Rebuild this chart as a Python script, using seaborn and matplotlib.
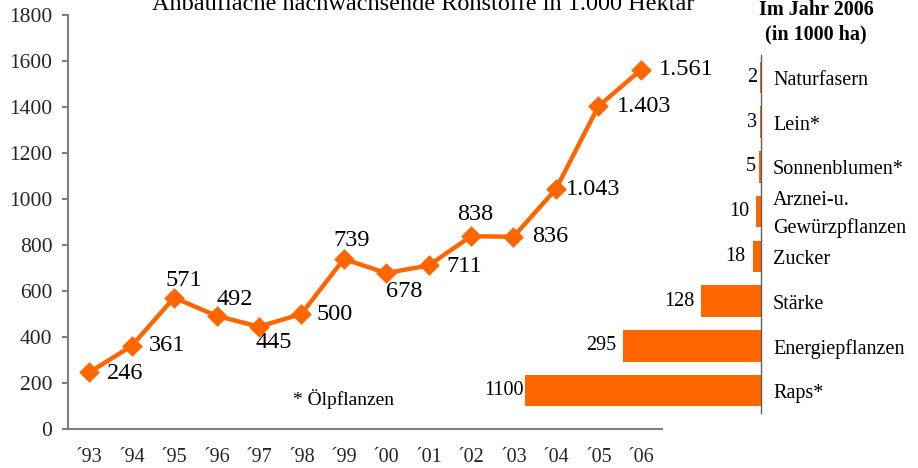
import matplotlib
matplotlib.use("Agg")
import matplotlib.pyplot as plt
import seaborn as sns
import pandas as pd

# Anbaufläche nachwachsende Rohstoffe (1.000 ha)
jahre = ["´93", "´94", "´95", "´96", "´97", "´98", "´99",
         "´00", "´01", "´02", "´03", "´04", "´05", "´06"]
flaeche = [246, 361, 571, 492, 445, 500, 739, 678, 711, 838, 836, 1043, 1403, 1561]

# Im Jahr 2006 (in 1000 ha)
kulturen = ["Naturfasern", "Lein*", "Sonnenblumen*", "Arznei-u.\nGewürzpflanzen",
            "Zucker", "Stärke", "Energiepflanzen", "Raps*"]
anbau_2006 = [2, 3, 5, 10, 18, 128, 295, 1100]

y_ticks = list(range(0, 1801, 200))

ORANGE = "#FF6600"
GRAU = "#808080"
W, H = 918, 468
PT = 0.72  # px -> pt bei 100 dpi

# Lage der Wertbeschriftungen relativ zum Marker (px, linker Rand / Mitte)
label_offsets = [(18, 1), (17, 0), (-9, -17), (0, -16), (-3, 16), (15, 0), (-10, -19),
                 (0, 18), (18, 1), (-14, -22), (19, 0), (10, 0), (19, 0), (18, 0)]

sns.set_theme(style="white")
plt.rcParams["font.family"] = ["Liberation Serif", "DejaVu Serif"]
plt.rcParams["text.color"] = "black"


def px_box(x0, y0, x1, y1):
    return [x0 / W, 1 - y1 / H, (x1 - x0) / W, (y1 - y0) / H]


fig = plt.figure(figsize=(W / 100, H / 100), dpi=100)

# --- Liniendiagramm ---
ax = fig.add_axes(px_box(68, 15, 662, 429))
df = pd.DataFrame({"Jahr": jahre, "Fläche": flaeche})
sns.pointplot(data=df, x="Jahr", y="Fläche", color=ORANGE, markers="D",
              markersize=8, linewidth=3.2, errorbar=None, ax=ax)
ax.set_xlim(-0.5, len(jahre) - 0.5)
ax.set_ylim(0, 1800)
ax.set_yticks(y_ticks)
ax.set_xlabel("")
ax.set_ylabel("")
sns.despine(ax=ax)
for s in ["left", "bottom"]:
    ax.spines[s].set_color(GRAU)
    ax.spines[s].set_linewidth(1.5)
ax.tick_params(axis="y", left=True, direction="out", length=4.3, width=1.5,
               color=GRAU, pad=7, labelsize=15.5)
ax.tick_params(axis="x", bottom=True, length=0, pad=14, labelsize=14.5)

for i, (v, (dx, dy)) in enumerate(zip(flaeche, label_offsets)):
    txt = f"{v:,}".replace(",", ".")
    ax.annotate(txt, xy=(i, v), xytext=(dx * PT, -dy * PT), textcoords="offset points",
                ha="left", va="center", fontsize=17.5, annotation_clip=False)

fig.text(293 / W, 1 - 399 / H, "* Ölpflanzen", ha="left", va="center", fontsize=14)

# --- Balkendiagramm 2006 ---
bx = fig.add_axes(px_box(525, 55, 761, 413))
bx.patch.set_alpha(0)
df2 = pd.DataFrame({"Kultur": kulturen, "ha": anbau_2006})
sns.barplot(data=df2, y="Kultur", x="ha", color=ORANGE, saturation=1, width=0.7,
            orient="h", linewidth=0, ax=bx)
x_max = 504
bx.set_xlim(x_max, 0)
bx.set_ylim(len(kulturen) - 0.5, -0.5)
bx.set_xlabel("")
bx.set_ylabel("")
bx.set_xticks([])
bx.set_yticks([])
for s in ["left", "top", "bottom"]:
    bx.spines[s].set_visible(False)
bx.spines["right"].set_color("#606060")
bx.spines["right"].set_linewidth(1)

for i, (kultur, v) in enumerate(zip(kulturen, anbau_2006)):
    # Kategoriename rechts der Nulllinie
    bx.annotate(kultur, xy=(0, i), xytext=(12 * PT, -3 * PT), textcoords="offset points",
                ha="left", va="center", fontsize=14.5, linespacing=1.5,
                annotation_clip=False)
    # Wert links vom Balken
    if v > x_max:
        off = -1
    elif v < 10:
        off = -2
    else:
        off = -5
    bx.annotate(str(v), xy=(min(v, x_max), i), xytext=(off, 0), textcoords="offset points",
                ha="right", va="center", fontsize=14.5, annotation_clip=False)

# --- Überschriften ---
fig.text(423 / W, 1 - 10 / H, "Anbaufläche nachwachsende Rohstoffe in 1.000 Hektar",
         ha="center", va="baseline", fontsize=17.5)
fig.text(816 / W, 1 - 10 / H, "Im Jahr 2006", ha="center", va="center",
         fontsize=14.5, weight="bold")
fig.text(816 / W, 1 - 34 / H, "(in 1000 ha)", ha="center", va="center",
         fontsize=14.5, weight="bold")

fig.savefig("out.png", dpi=100)
